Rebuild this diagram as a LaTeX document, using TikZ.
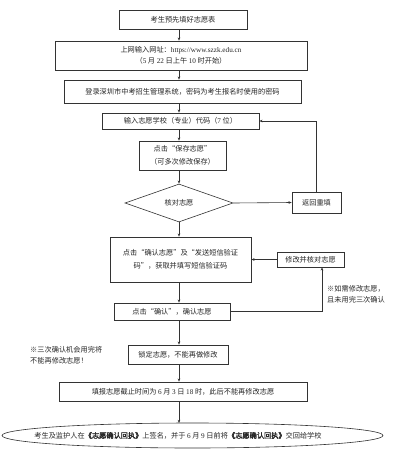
\documentclass[tikz,border=0pt]{standalone}
\usepackage{fontspec}
\setmainfont{Liberation Serif}
\newfontfamily\cjk{Noto Sans CJK SC}[AutoFakeBold=2]
\newfontfamily\lat{Liberation Serif}
\usetikzlibrary{shapes.geometric,arrows.meta}
\begin{document}
\begin{tikzpicture}[x=1pt,y=-1pt,
  every node/.style={inner sep=0pt, text=black!85, font=\cjk\fontsize{7.2}{12.5}\selectfont},
  stepbox/.style={draw=black!80, line width=0.6pt, align=center},
  note/.style={align=left, font=\cjk\fontsize{7.2}{11}\selectfont},
  conn/.style={draw=black!80, line width=0.6pt, -{Stealth[length=3.2pt,width=2.6pt]}}]
\useasboundingbox (0,0) rectangle (400,461);
\fill[white] (0,0) rectangle (400,461);
\coordinate (col) at (179,0);
\coordinate (mx) at (322,0);
\node[stepbox, minimum width=128, minimum height=19] (b1) at (183,19.5) {考生预先填好志愿表};
\node[stepbox, minimum width=252, minimum height=29, font=\cjk\fontsize{7.2}{11}\selectfont] (b2) at (181,55.5) {上网输入网址：{\lat https://www.szzk.edu.cn}\\（{\lat 5} 月 {\lat 22} 日上午 {\lat 10} 时开始）};
\node[stepbox, minimum width=237, minimum height=23] (b3) at (182.5,91.5) {登录深圳市中考招生管理系统，密码为考生报名时使用的密码};
\node[stepbox, minimum width=157, minimum height=16] (b4) at (180.5,121) {输入志愿学校（专业）代码（{\lat 7} 位）};
\node[stepbox, minimum width=87, minimum height=29] (b5) at (182.5,155.5) {点击“保存志愿”\\（可多次修改保存）};
\node[diamond, draw=black!80, line width=0.6pt, minimum width=108, minimum height=38] (d) at (179,203) {核对志愿};
\node[stepbox, minimum width=49, minimum height=21] (r) at (316.5,202.5) {返回重填};
\node[stepbox, minimum width=141, minimum height=45] (b6) at (180.5,259.5) {点击“确认志愿”及“发送短信验证\\码”，获取并填写短信验证码};
\node[stepbox, minimum width=67, minimum height=15] (m) at (310.5,259.5) {修改并核对志愿};
\node[stepbox, minimum width=116, minimum height=17] (b7) at (172,311.5) {点击“确认”，确认志愿};
\node[note, anchor=north west] (n1) at (327,285) {※如需修改志愿，\\且未用完三次确认};
\node[stepbox, minimum width=100, minimum height=19] (b8) at (178,354.5) {锁定志愿，不能再做修改};
\node[note, anchor=north west] (n2) at (30,346) {※三次确认机会用完将\\不能再修改志愿！};
\node[stepbox, minimum width=248, minimum height=19] (b9) at (183,391.5) {填报志愿截止时间为 {\lat 6} 月 {\lat 3} 日 {\lat 18} 时，此后不能再修改志愿};
\node (e) at (178,435.5) {考生及监护人在{\bfseries 《志愿确认回执》}上签名，并于 {\lat 6} 月 {\lat 9} 日前将{\bfseries 《志愿确认回执》}交回给学校};
\draw[draw=black!80, line width=0.6pt] (192.5,435.5) ellipse [x radius=190.5, y radius=12.5];
\coordinate (etop) at (179,423);
\draw[conn] (b1.south -| col) -- (b2.north -| col);
\draw[conn] (b2.south -| col) -- (b3.north -| col);
\draw[conn] (b3.south -| col) -- (b4.north -| col);
\draw[conn] (b4.south -| col) -- (b5.north -| col);
\draw[conn] (b5.south -| col) -- (d.north);
\draw[conn] (d.south) -- (b6.north -| col);
\draw[conn] (b6.south -| col) -- (b7.north -| col);
\draw[conn] (b7.south -| col) -- (b8.north -| col);
\draw[conn] (b8.south -| col) -- (b9.north -| col);
\draw[conn] (b9.south -| col) -- (etop);
\draw[conn] (d.east) -- (r.west);
\draw[conn] (r.north) |- (b4.east);
\draw[conn] (m.west) -- (b6.east);
\draw[conn] (b7.east) -| (m.south -| mx);
\end{tikzpicture}
\end{document}
